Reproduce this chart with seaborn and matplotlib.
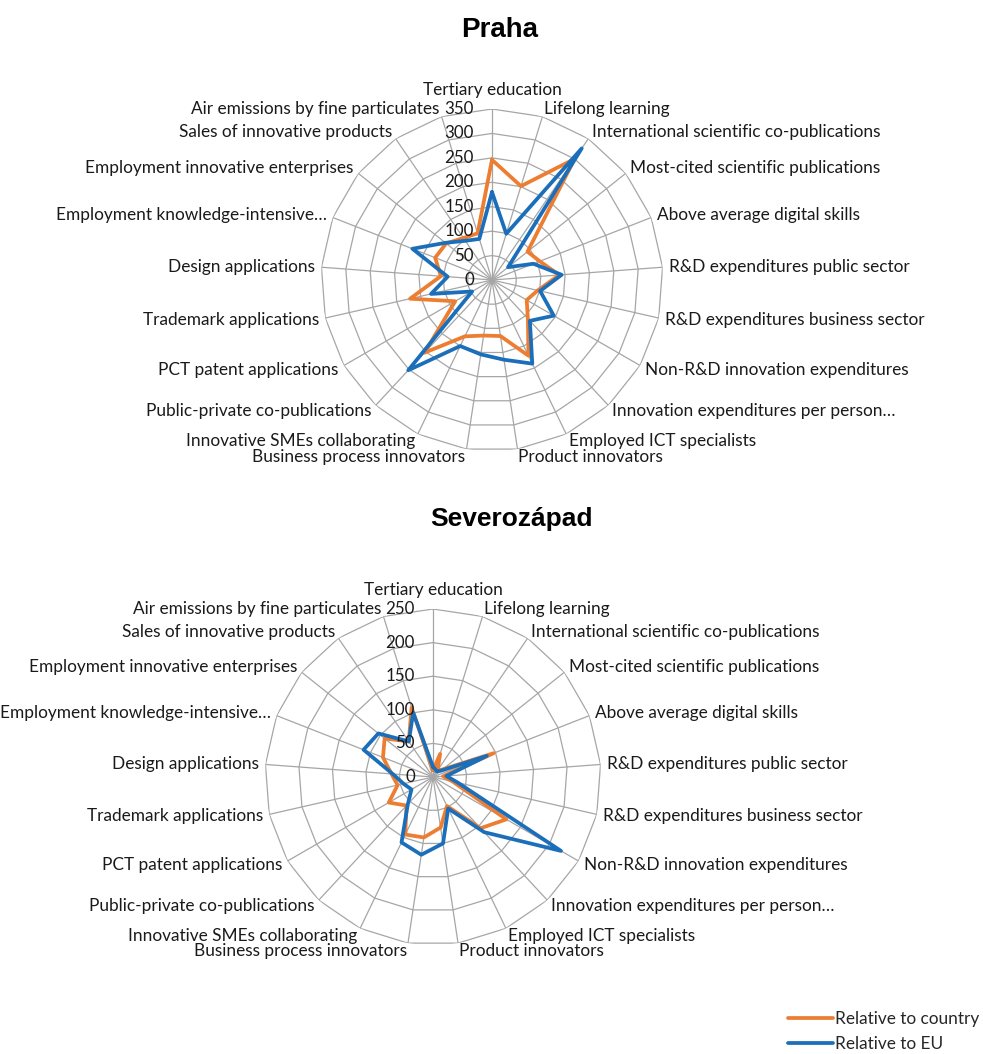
import numpy as np
import pandas as pd
import matplotlib
matplotlib.use("Agg")
import matplotlib.pyplot as plt
from matplotlib.lines import Line2D
import seaborn as sns

categories = [
    "Tertiary education", "Lifelong learning",
    "International scientific co-publications", "Most-cited scientific publications",
    "Above average digital skills", "R&D expenditures public sector",
    "R&D expenditures business sector", "Non-R&D innovation expenditures",
    "Innovation expenditures per person…", "Employed ICT specialists",
    "Product innovators", "Business process innovators",
    "Innovative SMEs collaborating", "Public-private co-publications",
    "PCT patent applications", "Trademark applications", "Design applications",
    "Employment knowledge-intensive…", "Employment innovative enterprises",
    "Sales of innovative products", "Air emissions by fine particulates",
]

series_names = ["Relative to country", "Relative to EU"]

praha_country = [246, 201, 300, 93, 105, 138, 96, 82, 108, 172, 116, 115, 128, 203, 87, 172, 105, 125, 120, 104, 100]
praha_eu = [180, 99, 326, 42, 91, 143, 101, 146, 114, 190, 165, 154, 150, 252, 47, 128, 91, 175, 122, 97, 88]

sever_country = [10, 36, 12, 18, 97, 15, 30, 126, 104, 48, 76, 91, 95, 58, 76, 54, 62, 80, 92, 64, 108]
sever_eu = [15, 12, 10, 15, 86, 20, 38, 220, 112, 52, 100, 117, 108, 55, 37, 45, 60, 111, 104, 64, 100]

praha_ticks = [0, 50, 100, 150, 200, 250, 300, 350]
sever_ticks = [0, 50, 100, 150, 200, 250]

ORANGE = "#ED7D31"
BLUE = "#1B6FBA"
GRID = "#A6A6A6"
TXT = "#1a1a1a"
FS = 12.4

sns.set_theme(style="white")
plt.rcParams["font.family"] = ["Lato", "DejaVu Sans"]

W, H = 983, 1054
fig = plt.figure(figsize=(W / 100, H / 100), dpi=100)

n = len(categories)
theta = np.arange(n) * 2 * np.pi / n


def radar(cx, cy, rad_px, ticks, country, eu, title, title_xy, title_fs):
    ax = fig.add_axes([(cx - rad_px) / W, 1 - (cy + rad_px) / H, 2 * rad_px / W, 2 * rad_px / H],
                      projection="polar")
    ax.set_theta_zero_location("N")
    ax.set_theta_direction(-1)
    rmax = ticks[-1]
    ax.set_ylim(0, rmax)
    ax.grid(False)
    ax.spines["polar"].set_visible(False)
    ax.set_facecolor("none")
    closed = np.append(theta, theta[0])
    # polygonal grid rings
    for t in ticks[1:]:
        ax.plot(closed, [t] * (n + 1), color=GRID, lw=0.9, zorder=1)
    # spokes
    for th in theta:
        ax.plot([th, th], [0, rmax], color=GRID, lw=0.9, zorder=1)

    rows = []
    for name, vals in zip(series_names, [country, eu]):
        v = list(vals) + [vals[0]]
        for i, (th, val) in enumerate(zip(closed, v)):
            rows.append({"theta": th, "value": val, "series": name, "order": i})
    df = pd.DataFrame(rows)
    sns.lineplot(data=df, x="theta", y="value", hue="series", hue_order=series_names,
                 palette=[ORANGE, BLUE], sort=False, estimator=None, lw=2.7,
                 legend=False, ax=ax, zorder=3)
    ax.set_xlabel("")
    ax.set_ylabel("")
    ax.set_xticks([])
    ax.set_yticks([])

    # radial tick labels
    for t in ticks:
        ax.annotate(str(t), xy=(0, t), xytext=(-18, 0), textcoords="offset pixels",
                    ha="right", va="center", fontsize=12.2, color=TXT, zorder=4,
                    annotation_clip=False)
    # category labels
    for th, lab in zip(theta, categories):
        s, c = np.sin(th), np.cos(th)
        if abs(s) < 0.01:
            ha, dx, dy = "center", 0, 19
        else:
            ha = "left" if s > 0 else "right"
            dx, dy = 6 * s, 8 * c
        ax.annotate(lab, xy=(th, rmax), xytext=(dx, dy), textcoords="offset pixels",
                    ha=ha, va="center", fontsize=FS, color=TXT, annotation_clip=False)

    fig.text(title_xy[0] / W, 1 - title_xy[1] / H, title, ha="center", va="center",
             fontsize=title_fs, fontweight="bold", family=["Liberation Sans", "DejaVu Sans"],
             color="black")
    return ax


radar(492, 280, 171, praha_ticks, praha_country, praha_eu, "Praha", (500, 30), 20)
radar(433, 777, 168, sever_ticks, sever_country, sever_eu, "Severozápad", (511, 519), 19)

handles = [Line2D([0], [0], color=ORANGE, lw=2.7), Line2D([0], [0], color=BLUE, lw=2.7)]
fig.legend(handles, series_names, loc="upper left", bbox_to_anchor=(788 / W, 1 - 1011 / H),
           frameon=False, fontsize=FS, handlelength=2.6, handletextpad=0.15,
           labelspacing=0.5, borderaxespad=0, borderpad=0)

fig.savefig("out.png", dpi=100, facecolor="white")
